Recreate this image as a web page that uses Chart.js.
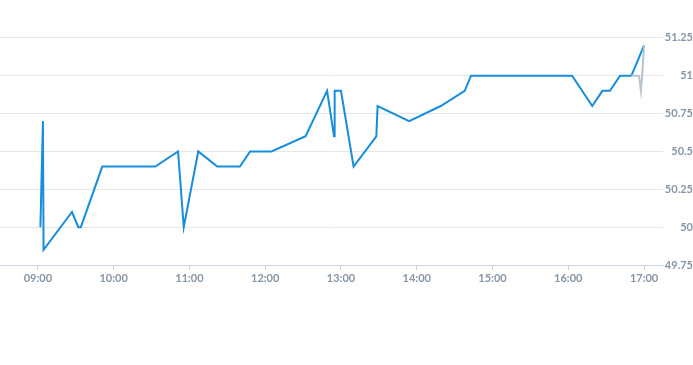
<!DOCTYPE html>
<html>
<head>
<meta charset="utf-8">
<script src="https://cdn.jsdelivr.net/npm/chart.js@4"></script>
<style>
	html, body { margin: 0; padding: 0; background: #fff; }
	.wrap { position: relative; width: 693px; height: 290px; }
</style>
</head>
<body>
<div class="wrap"><canvas id="chartCanvas"></canvas></div>
<script>
// price series (blue) and the last-minutes series (grey)
const priceTimes = ['09:02', '09:04', '09:04:30', '09:27', '09:32', '09:34', '09:51', '10:33', '10:51', '10:55:30',
	'11:07', '11:22', '11:40', '11:48', '12:05', '12:32', '12:49', '12:54:30', '12:55', '13:00',
	'13:10', '13:28', '13:29', '13:54', '14:19', '14:38', '14:43', '16:03', '16:19', '16:27',
	'16:33', '16:41', '16:50', '17:00'];
const priceValues = [50.0, 50.7, 49.85, 50.1, 50.0, 50.0, 50.4, 50.4, 50.5, 50.0,
	50.5, 50.4, 50.4, 50.5, 50.5, 50.6, 50.9, 50.6, 50.9, 50.9,
	50.4, 50.6, 50.8, 50.7, 50.8, 50.9, 51.0, 51.0, 50.8, 50.9,
	50.9, 51.0, 51.0, 51.2];
const tailTimes = ['16:50', '16:56', '16:57:30', '16:58:30', '17:00'];
const tailValues = [51.0, 51.0, 50.9, 51.0, 51.2];
const hourTicks = ['09:00', '10:00', '11:00', '12:00', '13:00', '14:00', '15:00', '16:00', '17:00'];
const yTicks = [49.75, 50, 50.25, 50.5, 50.75, 51, 51.25];

function toMin(t) {
	const p = t.split(':').map(Number);
	return p[0] * 60 + p[1] + (p[2] || 0) / 60;
}

function fmtMin(m) {
	const h = Math.floor(m / 60);
	const mm = Math.round(m % 60);
	return String(h).padStart(2, '0') + ':' + String(mm).padStart(2, '0');
}

const pricePoints = priceTimes.map((t, i) => ({ x: toMin(t), y: priceValues[i] }));
const tailPoints = tailTimes.map((t, i) => ({ x: toMin(t), y: tailValues[i] }));

const tickColor = '#8696a6';
const tickFont = { family: 'Lato', size: 11, weight: 'bold' };

const ctx = document.getElementById('chartCanvas').getContext('2d');
new Chart(ctx, {
	type: 'line',
	data: {
		datasets: [{
			data: tailPoints,
			borderColor: '#b9c4cf',
			borderWidth: 2,
			pointRadius: 0,
			tension: 0
		}, {
			data: pricePoints,
			borderColor: '#178ddb',
			borderWidth: 2,
			pointRadius: 0,
			tension: 0
		}]
	},
	options: {
		responsive: true,
		maintainAspectRatio: false,
		animation: false,
		layout: { padding: 0 },
		plugins: { legend: { display: false }, tooltip: { enabled: false } },
		scales: {
			x: {
				type: 'linear',
				min: toMin('08:30'),
				max: toMin('17:15'),
				afterBuildTicks: scale => {
					scale.ticks = hourTicks.map(t => ({ value: toMin(t) }));
				},
				afterFit: scale => { scale.height = 25; },
				grid: { drawOnChartArea: false, tickLength: 5, color: '#ccd5de' },
				border: { color: '#ccd5de' },
				ticks: {
					color: tickColor,
					font: tickFont,
					padding: 2,
					maxRotation: 0,
					callback: v => fmtMin(v)
				}
			},
			y: {
				position: 'right',
				min: 49.75,
				max: 51.5,
				afterBuildTicks: scale => {
					scale.ticks = yTicks.map(v => ({ value: v }));
				},
				afterFit: scale => {
					scale.width = 30;
					scale.paddingTop = 0;
				},
				grid: { color: '#e6e6e6', drawTicks: false },
				border: { display: false },
				ticks: {
					color: tickColor,
					font: tickFont,
					padding: 4,
					crossAlign: 'far',
					callback: v => String(v)
				}
			}
		}
	}
});
</script>
</body>
</html>
